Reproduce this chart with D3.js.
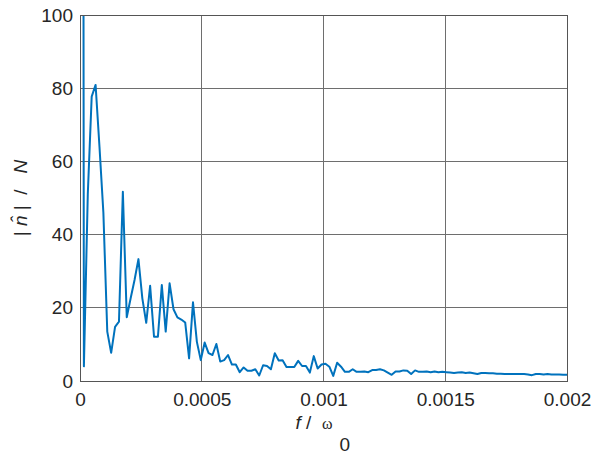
<!DOCTYPE html>
<html>
<head>
<meta charset="utf-8">
<script src="https://cdn.jsdelivr.net/npm/d3@7"></script>
<style>
  body { margin: 0; background: #fff; }
  text { font-family: "Liberation Sans", Arial, Helvetica, sans-serif; fill: #262626; }
</style>
</head>
<body>
<div id="chart-container"></div>
<script>
// spectrum magnitude |n^|/N, sampled every DF in f/omega0
var DF = 1.6e-5;
var magnitude = [
    1000, 4.0, 51, 77.7, 80.9, 64, 46, 13.5, 7.7, 14.8,
    16.2, 51.7, 17.4, 22.6, 27.6, 33.3, 22.6, 15.9, 26, 12.1,
    12.1, 26.2, 13.5, 26.7, 19.6, 17.4, 16.8, 16, 6.2, 21.5,
    10.7, 5.7, 10.5, 7.6, 7.1, 10.1, 5.3, 5.7, 7.1, 4.5,
    4.5, 2.4, 3.7, 2.8, 2.8, 3.2, 1.5, 4.3, 4.1, 3.2,
    7.6, 5.6, 5.7, 3.8, 3.8, 3.8, 5.5, 4.1, 4.1, 2.3,
    6.8, 3.4, 4.5, 4.7, 3.9, 1.4, 5.0, 3.9, 2.5, 2.5,
    3.2, 2.5, 2.5, 2.6, 2.4, 3.0, 3.0, 3.2, 2.9, 2.3,
    1.7, 2.6, 2.6, 2.9, 2.8, 1.9, 2.9, 2.5, 2.5, 2.6,
    2.4, 2.6, 2.4, 2.5, 2.4, 2.3, 2.2, 2.3, 2.4, 2.2,
    2.3, 2.1, 1.9, 2.2, 2.2, 2.1, 2.1, 2.0, 2.0, 1.9,
    1.9, 1.9, 1.9, 1.9, 1.9, 1.8, 1.6, 1.9, 1.9, 1.8,
    1.9, 1.8, 1.8, 1.8, 1.7, 1.7
];
var xTicks = [0, 0.0005, 0.001, 0.0015, 0.002];
var xTickLabels = ["0", "0.0005", "0.001", "0.0015", "0.002"];
var yTicks = [0, 20, 40, 60, 80, 100];

function create_chart() {
    var W = 598, H = 464;
    var margin = { top: 15, right: 31, bottom: 83, left: 80 };
    var width = W - margin.left - margin.right,
        height = H - margin.top - margin.bottom;

    var svg = d3.select("#chart-container")
        .append("svg")
        .attr("width", W)
        .attr("height", H);

    var xScale = d3.scaleLinear().domain([0, 0.002]).range([0, width]);
    var yScale = d3.scaleLinear().domain([0, 100]).range([height, 0]);

    var g = svg.append("g")
        .attr("transform", `translate(${margin.left},${margin.top})`);

    g.append("clipPath").attr("id", "clip")
        .append("rect").attr("width", width).attr("height", height);

    // grid lines
    g.append("g").selectAll("line.vx")
        .data(xTicks)
        .enter().append("line")
        .attr("x1", d => xScale(d)).attr("x2", d => xScale(d))
        .attr("y1", 0).attr("y2", height)
        .attr("stroke", "#6e6e6e").attr("stroke-width", 1)
        .attr("shape-rendering", "crispEdges");
    g.append("g").selectAll("line.hy")
        .data(yTicks)
        .enter().append("line")
        .attr("x1", 0).attr("x2", width)
        .attr("y1", d => yScale(d)).attr("y2", d => yScale(d))
        .attr("stroke", "#6e6e6e").attr("stroke-width", 1)
        .attr("shape-rendering", "crispEdges");

    // data line
    var pts = magnitude.map((v, i) => ({ f: i * DF, v: v }));
    var line = d3.line().x(d => xScale(d.f)).y(d => yScale(d.v));
    g.append("path")
        .datum(pts)
        .attr("clip-path", "url(#clip)")
        .attr("fill", "none")
        .attr("stroke", "#0072BD")
        .attr("stroke-width", 2)
        .attr("stroke-linejoin", "round")
        .attr("d", line);

    // axes box
    g.append("rect")
        .attr("width", width).attr("height", height)
        .attr("fill", "none").attr("stroke", "#555").attr("stroke-width", 1)
        .attr("shape-rendering", "crispEdges");

    // tick labels
    var xAxis = d3.axisBottom(xScale)
        .tickValues(xTicks)
        .tickFormat((d, i) => xTickLabels[i])
        .tickSize(0).tickPadding(12);
    var xg = g.append("g").attr("transform", `translate(0,${height})`).call(xAxis);
    xg.select(".domain").remove();
    xg.selectAll("text").style("font-size", "19px").attr("fill", "#262626");

    var yAxis = d3.axisLeft(yScale).tickValues(yTicks).tickSize(0).tickPadding(7);
    var yg = g.append("g").call(yAxis);
    yg.select(".domain").remove();
    yg.selectAll("text").style("font-size", "19px").attr("fill", "#262626");
    xg.attr("font-family", null);
    yg.attr("font-family", null);

    // x label: f / omega_0
    var cx = margin.left + width / 2;
    var xl = svg.append("text")
        .attr("x", cx - 28).attr("y", 429)
        .style("font-size", "19px");
    xl.append("tspan").attr("font-style", "italic").text("f");
    xl.append("tspan").text("\u00a0/\u00a0\u00a0");
    xl.append("tspan")
        .attr("font-family", "'Liberation Serif', 'DejaVu Serif', serif")
        .style("font-size", "16px").text("\u03c9");
    xl.append("tspan").attr("dx", 7).attr("dy", 22).text("0");

    // y label: |n^| / N
    var cy = margin.top + height / 2;
    var yl = svg.append("text")
        .attr("transform", `translate(27,${cy}) rotate(-90)`)
        .attr("text-anchor", "middle")
        .style("font-size", "19px");
    yl.append("tspan").text("|\u00a0");
    yl.append("tspan").attr("font-style", "italic").text("n\u0302");
    yl.append("tspan").text("\u00a0|\u00a0\u00a0/\u00a0\u00a0\u00a0");
    yl.append("tspan").attr("font-style", "italic").text("N");
}

create_chart();
</script>
</body>
</html>
